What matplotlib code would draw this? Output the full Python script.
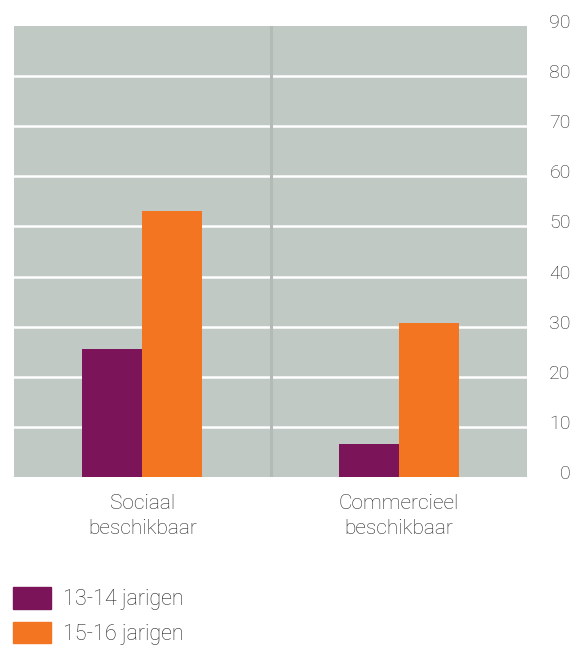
import matplotlib.pyplot as plt
import matplotlib.transforms as mtransforms
from matplotlib.patches import Patch
import numpy as np

categories = ["Sociaal\nbeschikbaar", "Commercieel\nbeschikbaar"]
series_names = ["13-14 jarigen", "15-16 jarigen"]
jong = [25.5, 6.6]
oud = [53.1, 30.7]
y_ticks = [0, 10, 20, 30, 40, 50, 60, 70, 80, 90]

purple = "#7b1458"
orange = "#f37421"
bg = "#c1c9c4"
txt = "#262626"

plt.rcParams['font.family'] = ['Roboto', 'DejaVu Sans']
plt.rcParams['font.weight'] = 'light'

fig = plt.figure(figsize=(5.82, 6.51), dpi=100)
ax = fig.add_axes([14 / 582, 1 - 477 / 651, 513 / 582, 451 / 651])
ax.set_facecolor(bg)

x = np.arange(len(categories))
w = 0.234
ax.bar(x - w / 2, jong, w, color=purple, zorder=3)
ax.bar(x + w / 2, oud, w, color=orange, zorder=3)

# gridlines and the divider between the two groups
for v in y_ticks[1:-1]:
    ax.axhline(v, color="white", lw=1.8, zorder=1)
ax.axvline(0.5, color="#b2bbb6", lw=2.2, zorder=2)

ax.set_xlim(-0.5, 1.5)
ax.set_ylim(0, 90)
for s in ax.spines.values():
    s.set_visible(False)

ax.yaxis.tick_right()
ax.set_yticks(y_ticks)
ax.set_yticklabels([str(v) for v in y_ticks])
ax.tick_params(axis="y", length=0, pad=31.5, labelsize=14, labelcolor=txt)
shift = mtransforms.ScaledTranslation(0, 5 / 100, fig.dpi_scale_trans)
for lab in ax.get_yticklabels():
    lab.set_horizontalalignment("right")
    lab.set_transform(lab.get_transform() + shift)

ax.set_xticks(x)
ax.set_xticklabels(categories, linespacing=1.4)
ax.tick_params(axis="x", length=0, pad=12, labelsize=15, labelcolor=txt)

handles = [Patch(color=purple), Patch(color=orange)]
fig.legend(handles, series_names, loc="lower left",
           bbox_to_anchor=(13 / 582, 6 / 651),
           frameon=False, fontsize=15.5, labelcolor=txt, handlelength=1.75,
           handleheight=1.15, handletextpad=0.55, labelspacing=0.55,
           borderaxespad=0, borderpad=0)

fig.savefig("out.png", dpi=100)
